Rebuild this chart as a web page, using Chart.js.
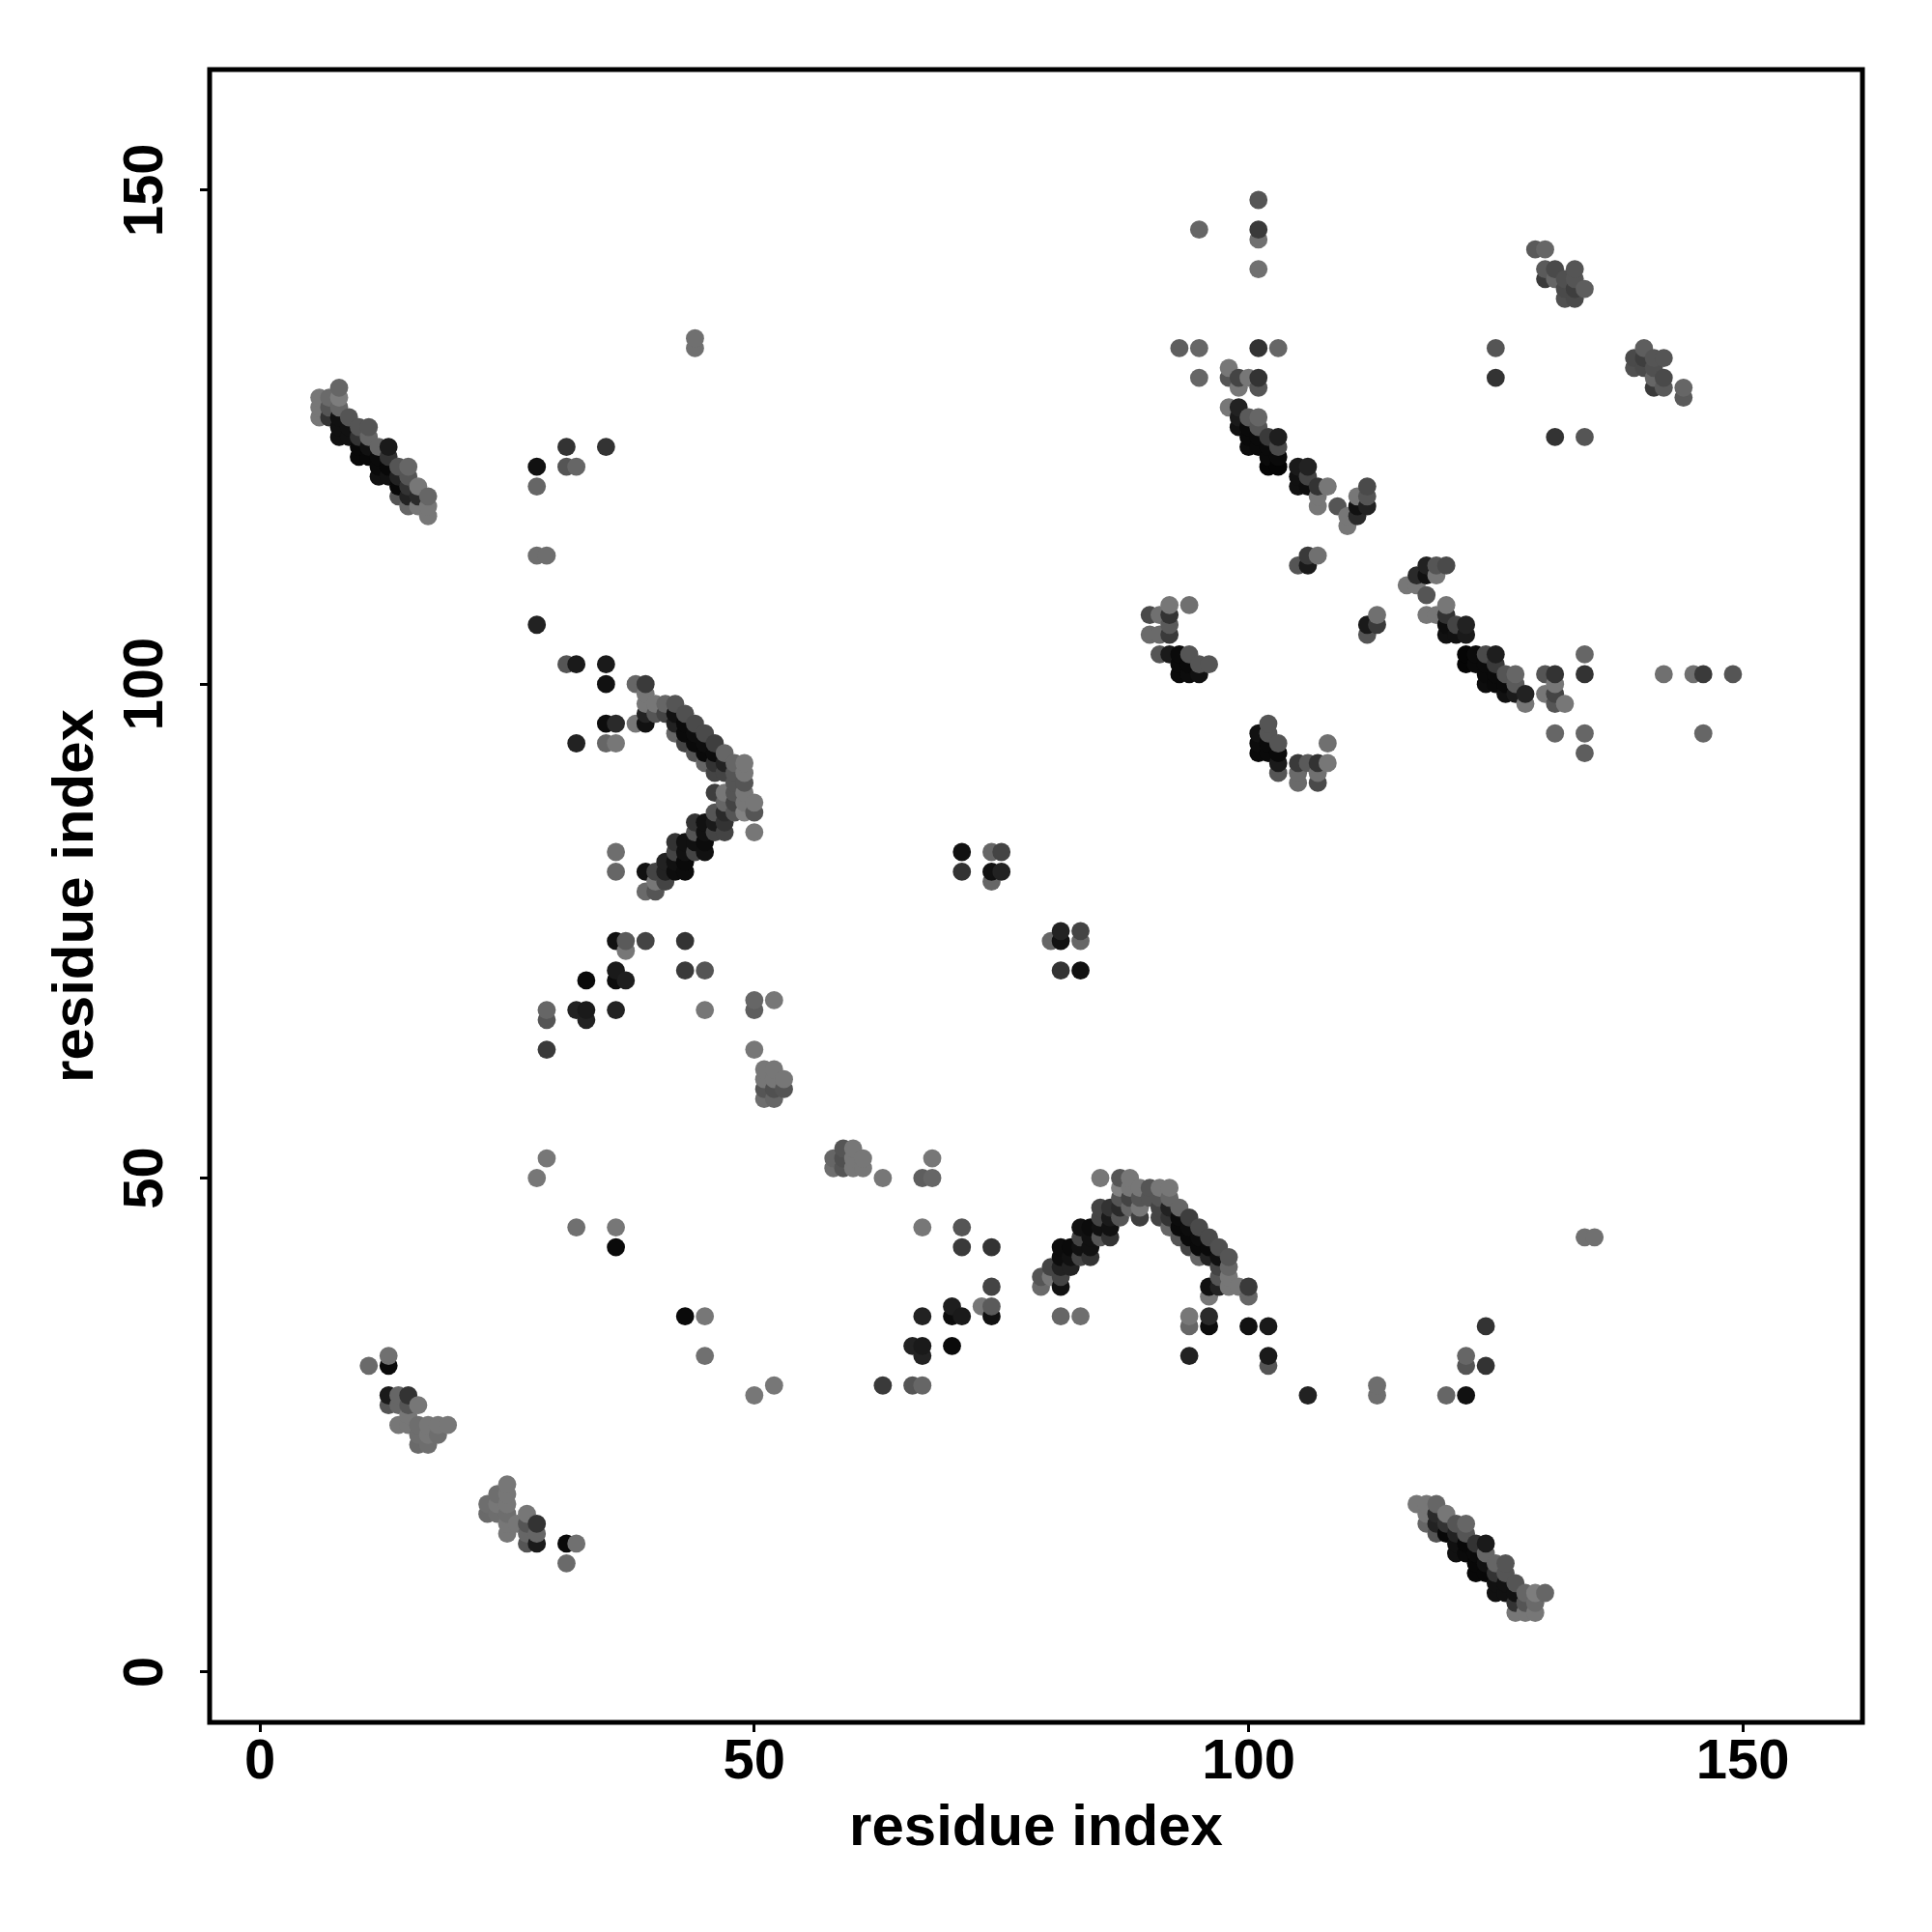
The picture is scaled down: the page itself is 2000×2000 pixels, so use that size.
<!DOCTYPE html>
<html>
<head>
<meta charset="utf-8">
<style>html,body{margin:0;padding:0;background:#fff}canvas{display:block}</style>
<script src="https://cdn.jsdelivr.net/npm/chart.js@4"></script>
</head>
<body>
<canvas id="c" width="2000" height="2000"></canvas>
<script>
// each contact: [residue x, residue y, grey level]
const strandAUpper = [[6,129,119],[6,128,119],[6,127,119],[7,129,106],[7,128,85],[7,127,51],[8,130,102],[8,129,125],[8,128,102],[8,127,17],[8,126,17],[8,125,17],[9,127,85],[9,126,17],[9,125,17],[10,126,85],[10,125,51],[10,124,8],[10,123,8],[11,126,85],[11,125,102],[11,124,17],[11,123,8],[12,124,102],[12,123,10],[12,122,10],[12,121,17],[13,124,26],[13,123,51],[13,122,8],[13,121,17],[14,122,85],[14,121,34],[14,120,8],[14,119,85],[15,122,102],[15,121,85],[15,120,51],[15,119,34],[15,118,102],[16,120,119],[16,119,42],[16,118,119],[17,119,102],[17,118,119],[17,117,119]];
const strandALower = [[129,6,119],[128,6,119],[127,6,119],[129,7,106],[128,7,85],[127,7,51],[130,8,102],[129,8,125],[128,8,102],[127,8,17],[126,8,17],[125,8,17],[127,9,85],[126,9,17],[125,9,17],[126,10,85],[125,10,51],[124,10,8],[123,10,8],[126,11,85],[125,11,102],[124,11,17],[123,11,8],[124,12,102],[123,12,10],[122,12,10],[121,12,17],[124,13,26],[123,13,51],[122,13,8],[121,13,17],[122,14,85],[121,14,34],[120,14,8],[119,14,85],[122,15,102],[121,15,85],[120,15,51],[119,15,34],[118,15,102],[120,16,119],[119,16,42],[118,16,119],[119,17,102],[118,17,119],[117,17,119]];

const clusterBUpper = [[11,31,106],[13,32,112],[13,31,10],[13,28,26],[13,27,85],[14,28,102],[14,27,102],[14,25,119],[15,28,51],[15,27,85],[15,26,119],[15,25,119],[16,27,119],[16,25,110],[16,24,110],[16,23,106],[17,25,119],[17,24,119],[17,23,110],[18,25,119],[18,24,110],[19,25,119]];
const clusterBLower = [[31,11,106],[32,13,112],[31,13,10],[28,13,26],[27,13,85],[28,14,102],[27,14,102],[25,14,119],[28,15,51],[27,15,85],[26,15,119],[25,15,119],[27,16,119],[25,16,110],[24,16,110],[23,16,106],[25,17,119],[24,17,119],[23,17,110],[25,18,119],[24,18,110],[25,19,119]];

const scatterCUpper = [[28,122,17],[28,120,102],[28,113,110],[28,106,34],[28,50,119],[29,113,110],[29,67,102],[29,66,85],[29,63,58],[29,52,119],[31,124,51],[31,122,85],[31,102,85],[32,122,102],[32,102,26],[32,94,34],[32,67,34],[32,45,112],[33,70,10],[33,67,26],[33,66,34],[35,124,51],[35,102,26],[35,100,17],[35,96,13],[35,94,102],[36,96,42],[36,94,119],[36,83,110],[36,81,102],[36,74,17],[36,71,26],[36,70,12],[36,67,34],[36,45,119],[36,43,10],[37,74,90],[37,73,119],[37,70,30],[39,74,68]];
const scatterCLower = [[122,28,17],[120,28,102],[113,28,110],[106,28,34],[50,28,119],[113,29,110],[67,29,102],[66,29,85],[63,29,58],[52,29,119],[124,31,51],[122,31,85],[102,31,85],[122,32,102],[102,32,26],[94,32,34],[67,32,34],[45,32,112],[70,33,10],[67,33,26],[66,33,34],[124,35,51],[102,35,26],[100,35,17],[96,35,13],[94,35,102],[96,36,42],[94,36,119],[83,36,110],[81,36,102],[74,36,17],[71,36,26],[70,36,12],[67,36,34],[45,36,119],[43,36,10],[74,37,90],[73,37,119],[70,37,30],[74,39,68]];

const arcDUpper = [[38,100,102],[38,96,119],[39,100,58],[39,99,119],[39,98,119],[39,97,34],[39,96,17],[39,81,17],[39,79,106],[40,98,119],[40,97,85],[40,81,68],[40,80,119],[40,79,85],[41,98,102],[41,97,68],[41,82,34],[41,81,34],[41,80,68],[42,98,85],[42,97,17],[42,96,34],[42,95,102],[42,84,51],[42,83,68],[42,82,17],[42,81,13],[43,97,80],[43,96,10],[43,95,10],[43,94,68],[43,84,17],[43,83,17],[43,82,10],[43,81,12],[44,96,74],[44,95,13],[44,94,10],[44,93,85],[44,86,51],[44,85,85],[44,84,17],[44,83,68],[45,95,74],[45,94,13],[45,93,10],[45,92,102],[45,86,17],[45,85,17],[45,84,12],[45,83,17],[46,94,62],[46,93,12],[46,92,51],[46,91,68],[46,89,62],[46,87,85],[46,86,26],[46,85,68],[47,93,102],[47,92,34],[47,91,68],[47,89,119],[47,88,102],[47,87,42],[47,86,51],[47,85,68],[48,92,102],[48,91,85],[48,90,85],[48,89,85],[48,88,68],[48,87,85],[49,92,119],[49,91,119],[49,90,85],[49,89,119],[49,88,119],[49,87,130],[50,88,119],[50,87,85],[50,85,119]];
const arcDLower = [[100,38,102],[96,38,119],[100,39,58],[99,39,119],[98,39,119],[97,39,34],[96,39,17],[81,39,17],[79,39,106],[98,40,119],[97,40,85],[81,40,68],[80,40,119],[79,40,85],[98,41,102],[97,41,68],[82,41,34],[81,41,34],[80,41,68],[98,42,85],[97,42,17],[96,42,34],[95,42,102],[84,42,51],[83,42,68],[82,42,17],[81,42,13],[97,43,80],[96,43,10],[95,43,10],[94,43,68],[84,43,17],[83,43,17],[82,43,10],[81,43,12],[96,44,74],[95,44,13],[94,44,10],[93,44,85],[86,44,51],[85,44,85],[84,44,17],[83,44,68],[95,45,74],[94,45,13],[93,45,10],[92,45,102],[86,45,17],[85,45,17],[84,45,12],[83,45,17],[94,46,62],[93,46,12],[92,46,51],[91,46,68],[89,46,62],[87,46,85],[86,46,26],[85,46,68],[93,47,102],[92,47,34],[91,47,68],[89,47,119],[88,47,102],[87,47,42],[86,47,51],[85,47,68],[92,48,102],[91,48,85],[90,48,85],[89,48,85],[88,48,68],[87,48,85],[92,49,119],[91,49,119],[90,49,85],[89,49,119],[88,49,119],[87,49,130],[88,50,119],[87,50,85],[85,50,119]];

const clusterEUpper = [[43,74,51],[43,71,58],[44,135,112],[44,134,112],[45,71,85],[45,67,119],[50,68,102],[50,67,94],[50,63,119],[51,61,119],[51,60,119],[51,59,85],[51,58,110],[52,68,119],[52,61,119],[52,60,119],[52,59,80],[52,58,102],[53,60,119],[53,59,85]];
const clusterELower = [[74,43,51],[71,43,58],[135,44,112],[134,44,112],[71,45,85],[67,45,119],[68,50,102],[67,50,94],[63,50,119],[61,51,119],[60,51,119],[59,51,85],[58,51,110],[68,52,119],[61,52,119],[60,52,119],[59,52,80],[58,52,102],[60,53,119],[59,53,85]];

const clusterFUpper = [[71,83,17],[71,81,51],[74,83,102],[74,81,17],[74,80,102],[75,83,68],[75,81,34]];
const clusterFLower = [[83,71,17],[81,71,51],[83,74,102],[81,74,17],[80,74,102],[83,75,68],[81,75,34]];

const clusterGUpper = [[90,107,74],[90,105,106],[91,107,112],[91,105,106],[91,103,85],[92,108,119],[92,107,51],[92,106,90],[92,105,58],[92,103,26],[93,103,10],[93,102,10],[93,101,10],[94,108,112],[94,103,85],[94,102,10],[94,101,12],[95,102,85],[95,101,17],[96,102,85]];
const clusterGLower = [[107,90,74],[105,90,106],[107,91,112],[105,91,106],[103,91,85],[108,92,119],[107,92,51],[106,92,90],[105,92,58],[103,92,26],[103,93,10],[102,93,10],[101,93,10],[108,94,112],[103,94,85],[102,94,10],[101,94,12],[102,95,85],[101,95,17],[102,96,85]];

const strandHUpper = [[93,134,94],[95,146,102],[95,134,102],[95,131,102],[98,132,119],[98,131,85],[98,128,119],[99,131,68],[99,130,119],[99,128,34],[99,127,26],[99,126,17],[100,131,119],[100,127,90],[100,126,10],[100,125,10],[100,124,13],[101,149,85],[101,146,58],[101,145,112],[101,142,112],[101,134,51],[101,131,51],[101,130,85],[101,127,102],[101,126,85],[101,125,10],[101,124,10],[102,125,58],[102,124,10],[102,123,10],[102,122,5],[103,134,102],[103,125,30],[103,124,74],[103,123,10],[103,122,5],[105,122,26],[105,121,17],[105,120,17],[105,112,85],[106,122,34],[106,121,68],[106,120,13],[106,113,58],[106,112,26],[107,120,51],[107,119,119],[107,118,119],[107,113,112],[108,120,119],[109,118,85],[110,117,119],[110,116,119],[111,119,119],[111,118,17],[111,117,42],[112,120,74],[112,119,85],[112,118,34]];
const strandHLower = [[134,93,94],[146,95,102],[134,95,102],[131,95,102],[132,98,119],[131,98,85],[128,98,119],[131,99,68],[130,99,119],[128,99,34],[127,99,26],[126,99,17],[131,100,119],[127,100,90],[126,100,10],[125,100,10],[124,100,13],[149,101,85],[146,101,58],[145,101,112],[142,101,112],[134,101,51],[131,101,51],[130,101,85],[127,101,102],[126,101,85],[125,101,10],[124,101,10],[125,102,58],[124,102,10],[123,102,10],[122,102,5],[134,103,102],[125,103,30],[124,103,74],[123,103,10],[122,103,5],[122,105,26],[121,105,17],[120,105,17],[112,105,85],[122,106,34],[121,106,68],[120,106,13],[113,106,58],[112,106,26],[120,107,51],[119,107,119],[118,107,119],[113,107,112],[120,108,119],[118,109,85],[117,110,119],[116,110,119],[119,111,119],[118,111,17],[117,111,42],[120,112,74],[119,112,85],[118,112,34]];

const clusterIUpper = [[125,134,85],[125,131,51],[129,144,90],[130,144,102],[130,142,90],[130,141,58],[131,142,74],[131,141,102],[132,141,80],[132,140,74],[132,139,80],[133,142,85],[133,141,85],[133,140,62],[133,139,74],[134,140,94]];
const clusterILower = [[134,125,85],[131,125,51],[144,129,90],[144,130,102],[142,130,90],[141,130,58],[142,131,74],[141,131,102],[141,132,80],[140,132,74],[139,132,80],[142,133,85],[141,133,85],[140,133,62],[139,133,74],[140,134,94]];

const xTickValues = [0, 50, 100, 150];
const yTickValues = [0, 50, 100, 150];
const axisTitle = 'residue index';

const contacts = [].concat(
  strandAUpper, strandALower, clusterBUpper, clusterBLower, scatterCUpper, scatterCLower,
  arcDUpper, arcDLower, clusterEUpper, clusterELower, clusterFUpper, clusterFLower,
  clusterGUpper, clusterGLower, strandHUpper, strandHLower, clusterIUpper, clusterILower
).sort((a, b) => a[0] - b[0] || a[1] - b[1]);

const FONT = '"Liberation Sans", Arial, sans-serif';
const framePlugin = {
  id: 'frame',
  afterDatasetsDraw(chart) {
    const a = chart.chartArea, ctx = chart.ctx;
    ctx.save();
    ctx.strokeStyle = '#000';
    ctx.lineWidth = 5;
    ctx.strokeRect(a.left, a.top, a.right - a.left, a.bottom - a.top);
    ctx.restore();
  }
};

const tickFix = values => scale => { scale.ticks = values.map(v => ({ value: v, label: String(v) })); };

new Chart(document.getElementById('c'), {
  type: 'scatter',
  data: {
    datasets: [{
      data: contacts.map(c => ({ x: c[0], y: c[1] })),
      pointBackgroundColor: contacts.map(c => `rgb(${c[2]},${c[2]},${c[2]})`),
      pointBorderWidth: 0,
      pointRadius: 9.4,
      pointHoverRadius: 9.4,
      showLine: false
    }]
  },
  options: {
    responsive: false,
    animation: false,
    devicePixelRatio: 1,
    layout: { padding: { top: 72, right: 72, left: 0, bottom: 0 } },
    plugins: { legend: { display: false }, tooltip: { enabled: false } },
    scales: {
      x: {
        type: 'linear', min: -5.1, max: 162.1,
        afterBuildTicks: tickFix(xTickValues),
        afterFit(s) { s.height = 217; },
        grid: { display: true, drawOnChartArea: false, drawTicks: true, tickLength: 10, tickWidth: 3, tickColor: '#000' },
        border: { display: false },
        ticks: { autoSkip: false, maxRotation: 0, minRotation: 0, color: '#000', padding: -3, font: { family: FONT, size: 58, weight: 'bold' } },
        title: { display: true, text: axisTitle, color: '#000', padding: { top: 0, bottom: 71 }, font: { family: FONT, size: 60, weight: 'bold' } }
      },
      y: {
        type: 'linear', min: -5.1, max: 162.2,
        afterBuildTicks: tickFix(yTickValues),
        afterFit(s) { s.width = 217; },
        grid: { display: true, drawOnChartArea: false, drawTicks: true, tickLength: 10, tickWidth: 3, tickColor: '#000' },
        border: { display: false },
        ticks: { autoSkip: false, minRotation: 90, maxRotation: 90, crossAlign: 'center', color: '#000', padding: 7, font: { family: FONT, size: 58, weight: 'bold' } },
        title: { display: true, text: axisTitle, color: '#000', padding: { top: 43, bottom: 0 }, font: { family: FONT, size: 60, weight: 'bold' } }
      }
    }
  },
  plugins: [framePlugin]
});
</script>
</body>
</html>
